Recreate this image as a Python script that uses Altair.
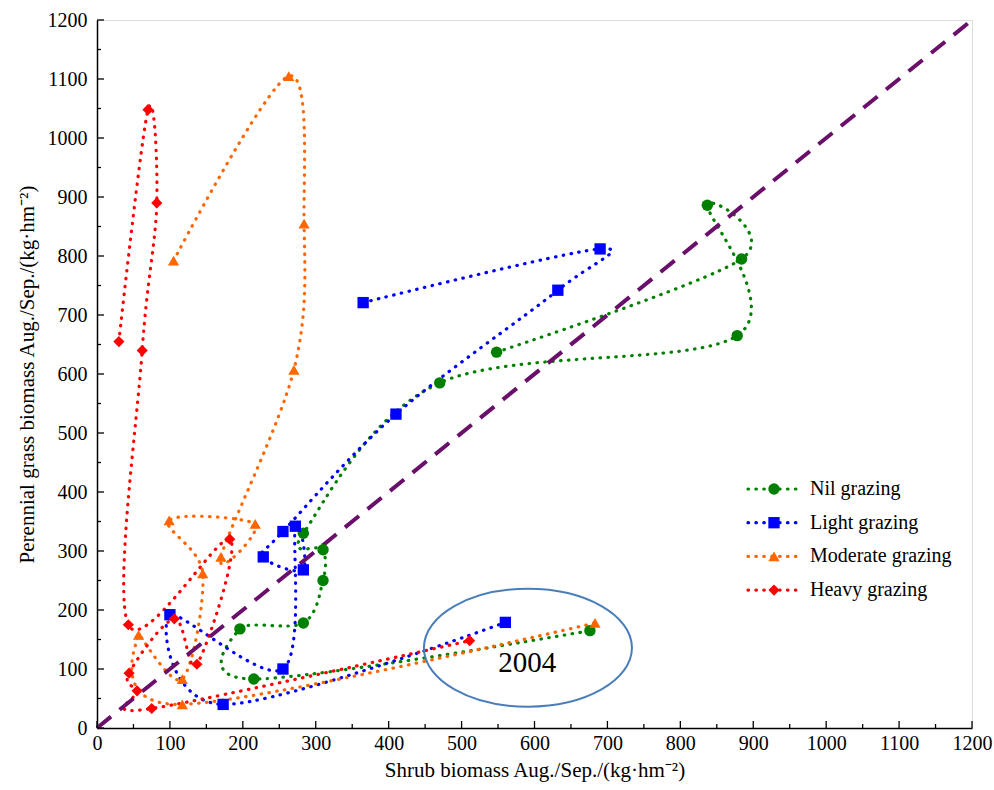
import altair as alt
import pandas as pd

series_names = ["Nil grazing", "Light grazing", "Moderate grazing", "Heavy grazing"]
colors = ["#008000", "#0000FF", "#FF6600", "#FF0000"]
shapes = ["circle", "square", "triangle-up", "diamond"]
marker_sizes = [130, 125, 190, 190]

# points in drawing order (spline passes through them in this order)
nil_x = [548, 884, 837, 878, 470, 283, 310, 310, 283, 196, 215, 676]
nil_y = [637, 795, 886, 665, 585, 330, 302, 250, 178, 168, 83, 165]
light_x = [365, 690, 632, 410, 255, 228, 283, 272, 255, 100, 173, 560]
light_y = [721, 812, 742, 532, 333, 290, 268, 342, 100, 192, 40, 179]
moderate_x = [105, 263, 284, 270, 170, 217, 99, 145, 117, 57, 117, 683]
moderate_y = [792, 1105, 855, 607, 290, 346, 352, 262, 83, 158, 40, 178]
heavy_x = [30, 70, 82, 62, 43, 182, 137, 106, 44, 55, 75, 511]
heavy_y = [655, 1048, 890, 640, 175, 320, 108, 185, 93, 63, 33, 148]

diag = [0, 1200]
ellipse_center = {"x": [591], "y": [136]}
label_2004 = {"x": [590], "y": [95], "t": ["2004"]}

major_ticks = list(range(0, 1201, 100))
minor_ticks = list(range(50, 1200, 100))

rows = []
for name, xs, ys in zip(series_names,
                        [nil_x, light_x, moderate_x, heavy_x],
                        [nil_y, light_y, moderate_y, heavy_y]):
    for i, (a, b) in enumerate(zip(xs, ys)):
        rows.append({"series": name, "step": i, "x": a, "y": b})
df = pd.DataFrame(rows)

FONT = "'Liberation Serif', 'Times New Roman', serif"
W, H = 875, 708

xscale = alt.Scale(domain=[0, 1200], nice=False, zero=False)
yscale = alt.Scale(domain=[0, 1200], nice=False, zero=False)
color = alt.Color("series:N", scale=alt.Scale(domain=series_names, range=colors), legend=None)
shape = alt.Shape("series:N", scale=alt.Scale(domain=series_names, range=shapes), legend=None)
size = alt.Size("series:N", scale=alt.Scale(domain=series_names, range=marker_sizes), legend=None)

xaxis = alt.Axis(values=major_ticks, format="d", ticks=False, tickSize=0, labelPadding=5,
                 labelFontSize=20, labelFont=FONT, labelColor="black", domainColor="black",
                 domainWidth=1.5, grid=False, labelFlush=False, labelOverlap=False,
                 title="Shrub biomass Aug./Sep./(kg·hm⁻²)", titleFont=FONT, titleFontSize=21,
                 titleFontWeight="normal", titleColor="black", titlePadding=6)
yaxis = alt.Axis(values=major_ticks, format="d", ticks=False, tickSize=0, labelPadding=10,
                 labelFontSize=20, labelFont=FONT, labelColor="black", domainColor="black",
                 domainWidth=1.5, grid=False, labelFlush=False, labelOverlap=False,
                 title="Perennial grass biomass Aug./Sep./(kg·hm⁻²)", titleFont=FONT,
                 titleFontSize=21, titleFontWeight="normal", titleColor="black", titlePadding=10)


def X(field):
    return alt.X(field, scale=xscale, axis=xaxis)


def Y(field):
    return alt.Y(field, scale=yscale, axis=yaxis)


DOTS = [0.5, 7.4]

lines = alt.Chart(df).mark_line(interpolate="cardinal", strokeWidth=3.2, strokeDash=DOTS,
                                strokeCap="round").encode(
    x=X("x:Q"), y=Y("y:Q"), color=color, order=alt.Order("step:Q"))

points = alt.Chart(df).mark_point(filled=True, opacity=1).encode(
    x=X("x:Q"), y=Y("y:Q"), color=color, shape=shape, size=size)

diag_line = alt.Chart(pd.DataFrame({"x": diag, "y": diag})).mark_line(
    color="#6a0f6a", strokeWidth=4, strokeDash=[18, 11]).encode(x=X("x:Q"), y=Y("y:Q"))

ellipse = alt.Chart(pd.DataFrame(ellipse_center)).mark_point(
    shape="M-1,0A1,0.567,0,1,1,1,0A1,0.567,0,1,1,-1,0Z", size=43264, filled=False,
    stroke="#4A7EBB", strokeWidth=2, opacity=1).encode(x=X("x:Q"), y=Y("y:Q"))

text2004 = alt.Chart(pd.DataFrame(label_2004)).mark_text(
    font=FONT, fontSize=29, align="center", baseline="alphabetic", color="black").encode(
    x=X("x:Q"), y=Y("y:Q"), text="t:N")

xt_major = alt.Chart(pd.DataFrame({"x": major_ticks})).mark_rule(color="black", strokeWidth=1.3).encode(
    x=X("x:Q"), y=alt.value(H), y2=alt.value(H - 7))
xt_minor = alt.Chart(pd.DataFrame({"x": minor_ticks})).mark_rule(color="black", strokeWidth=1.3).encode(
    x=X("x:Q"), y=alt.value(H), y2=alt.value(H - 4))
yt_major = alt.Chart(pd.DataFrame({"y": major_ticks})).mark_rule(color="black", strokeWidth=1.3).encode(
    y=Y("y:Q"), x=alt.value(0), x2=alt.value(7))
yt_minor = alt.Chart(pd.DataFrame({"y": minor_ticks})).mark_rule(color="black", strokeWidth=1.3).encode(
    y=Y("y:Q"), x=alt.value(0), x2=alt.value(4))

layers = [lines, diag_line, ellipse, points, text2004, xt_major, xt_minor, yt_major, yt_minor]

# manual legend (pixel layout inside the plot area)
LEG_X0, LEG_X1, LEG_MK, LEG_TX = 651, 703, 677, 713
LEG_Y0, LEG_DY = 469, 33.7
for i, name in enumerate(series_names):
    ly = LEG_Y0 + i * LEG_DY
    one = pd.DataFrame({"series": [name]})
    layers.append(alt.Chart(one).mark_rule(strokeWidth=3.2, strokeDash=DOTS, strokeCap="round").encode(
        x=alt.value(LEG_X0), x2=alt.value(LEG_X1), y=alt.value(ly), color=color))
    layers.append(alt.Chart(one).mark_point(filled=True, opacity=1).encode(
        x=alt.value(LEG_MK), y=alt.value(ly), color=color, shape=shape, size=size))
    layers.append(alt.Chart(one).mark_text(font=FONT, fontSize=20, align="left", baseline="middle",
                                           color="black").encode(
        x=alt.value(LEG_TX), y=alt.value(ly), text="series:N"))

chart = alt.layer(*layers).properties(
    width=W, height=H,
    padding={"left": 97, "top": 20, "right": 22, "bottom": 62},
    autosize=alt.AutoSizeParams(type="none"),
).configure_view(stroke=None).configure(background="white")

chart.save("out.html", embed_options={"renderer": "svg", "actions": False})
